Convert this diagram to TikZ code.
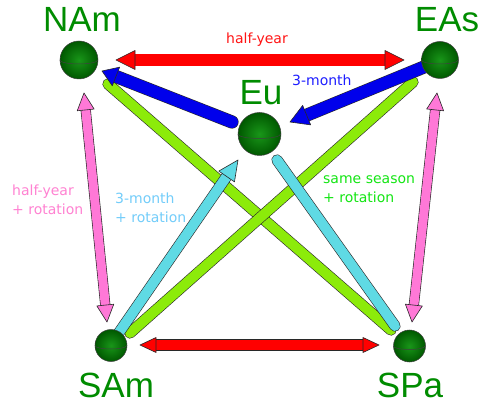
\documentclass[tikz,border=0pt]{standalone}
\usepackage{fontspec}
\setmainfont{Liberation Sans}
\newfontfamily\smallfont{DejaVu Sans}
\usetikzlibrary{calc}

\definecolor{sphlight}{RGB}{25,150,25}
\definecolor{sphdark}{RGB}{0,88,0}
\definecolor{labgreen}{RGB}{0,140,0}
\definecolor{rodred}{RGB}{255,0,0}
\definecolor{rodblue}{RGB}{0,0,235}
\definecolor{rodlime}{RGB}{140,235,10}
\definecolor{rodcyan}{RGB}{95,218,228}
\definecolor{rodpink}{RGB}{255,120,215}
\definecolor{rodedge}{RGB}{40,40,40}
\definecolor{txtred}{RGB}{255,20,20}
\definecolor{txtblue}{RGB}{30,30,255}
\definecolor{txtpink}{RGB}{255,130,210}
\definecolor{txtcyan}{RGB}{115,205,250}
\definecolor{txtgreen}{RGB}{20,230,20}

\tikzset{
  sphere/.style={circle, inner sep=0pt, minimum size=#1, shading=radial, inner color=sphlight, outer color=sphdark, draw=black!75, line width=0.5pt},
  biglabel/.style={font=\fontsize{35}{35}\selectfont, text=labgreen, inner sep=0pt, anchor=base},
  smalllabel/.style={font=\smallfont\fontsize{14}{19}\selectfont, inner sep=0pt, align=left},
  equator/.style={black!75, line width=0.5pt},
}

% single-headed rod: colour, shaft width, from, tip, head length, head half width
\newcommand\arrowrod[6]{%
  \coordinate (hb) at ($(#4)!#5pt!(#3)$);
  \draw[line width=#2pt+1.2pt, rodedge, line cap=round] (#3) -- (hb);
  \draw[line width=#2pt, #1, line cap=round] (#3) -- (hb);
  \draw[rodedge, line width=0.6pt, fill=#1, line join=round] (#4) -- ($(hb)!#6pt!90:(#4)$) -- ($(hb)!#6pt!-90:(#4)$) -- cycle;
}
% double-headed rod: colour, shaft width, tip A, tip B, head length, head half width
\newcommand\dblrod[6]{%
  \coordinate (hA) at ($(#3)!#5pt!(#4)$);
  \coordinate (hB) at ($(#4)!#5pt!(#3)$);
  \draw[line width=#2pt+1.2pt, rodedge] (hA) -- (hB);
  \draw[line width=#2pt, #1] (hA) -- (hB);
  \draw[rodedge, line width=0.6pt, fill=#1, line join=round] (#3) -- ($(hA)!#6pt!90:(#3)$) -- ($(hA)!#6pt!-90:(#3)$) -- cycle;
  \draw[rodedge, line width=0.6pt, fill=#1, line join=round] (#4) -- ($(hB)!#6pt!90:(#4)$) -- ($(hB)!#6pt!-90:(#4)$) -- cycle;
}
% plain rod: colour, width, from, to
\newcommand\plainrod[4]{%
  \draw[line width=#2pt+1.2pt, rodedge, line cap=round] (#3) -- (#4);
  \draw[line width=#2pt, #1, line cap=round] (#3) -- (#4);
}

\begin{document}
\begin{tikzpicture}[x=1pt,y=-1pt]
\fill[white] (0,0) rectangle (479,403);
\useasboundingbox (0,0) rectangle (479,403);

% sphere positions
\coordinate (pNAm) at (79,60);
\coordinate (pEAs) at (440,60);
\coordinate (pEu) at (259.5,134);
\coordinate (pSAm) at (111,345.5);
\coordinate (pSPa) at (409.5,346);

% rod end points
\coordinate (gA1) at (108,84);
\coordinate (gA2) at (391,330);
\coordinate (gB1) at (413,82);
\coordinate (gB2) at (130,333);
\coordinate (cA1) at (118,334);
\coordinate (cA2) at (238,160);
\coordinate (cB1) at (277,160);
\coordinate (cB2) at (395,326);
\coordinate (bA1) at (232,122);
\coordinate (bA2) at (102,71);
\coordinate (bB1) at (424,67);
\coordinate (bB2) at (290,122);
\coordinate (rA1) at (116,60);
\coordinate (rA2) at (404,60);
\coordinate (rB1) at (140,345);
\coordinate (rB2) at (379,345);
\coordinate (pA1) at (84,93);
\coordinate (pA2) at (107,322);
\coordinate (pB1) at (437,93);
\coordinate (pB2) at (412,322);

% same season + rotation (lime)
\plainrod{rodlime}{10}{gA1}{gA2}
\plainrod{rodlime}{10}{gB1}{gB2}
% 3-month + rotation (cyan)
\arrowrod{rodcyan}{10}{cA1}{cA2}{20}{9.5}
\plainrod{rodcyan}{10}{cB1}{cB2}
% 3-month (blue)
\arrowrod{rodblue}{12}{bA1}{bA2}{15}{10}
\arrowrod{rodblue}{12}{bB1}{bB2}{18}{10.5}
% half-year + rotation (pink)
\dblrod{rodpink}{9}{pA1}{pA2}{17}{8.5}
\dblrod{rodpink}{9}{pB1}{pB2}{17}{8.5}
% half-year (red)
\dblrod{rodred}{11.5}{rA1}{rA2}{19}{9.5}
\dblrod{rodred}{10}{rB1}{rB2}{16}{7.5}

% spheres
\node[sphere=38pt] (NAm) at (pNAm) {};
\node[sphere=37pt] (EAs) at (pEAs) {};
\node[sphere=43pt] (Eu) at (pEu) {};
\node[sphere=32pt] (SAm) at (pSAm) {};
\node[sphere=32pt] (SPa) at (pSPa) {};
\draw[equator] (NAm.west) arc[start angle=180, end angle=0, x radius=19, y radius=4];
\draw[equator] (EAs.west) arc[start angle=180, end angle=0, x radius=18.5, y radius=4];
\draw[equator] (Eu.west) arc[start angle=180, end angle=0, x radius=21.5, y radius=4.5];
\draw[equator] (SAm.west) arc[start angle=180, end angle=0, x radius=16, y radius=3.5];
\draw[equator] (SPa.west) arc[start angle=180, end angle=0, x radius=16, y radius=3.5];

% big labels
\node[biglabel] (NAmL) at (82,32) {NAm};
\node[biglabel] (EAsL) at (447,32) {EAs};
\node[biglabel] (EuL) at (261,105) {Eu};
\node[biglabel] (SAmL) at (116,397) {SAm};
\node[biglabel] (SPaL) at (410,397) {SPa};

% small labels
\node[smalllabel, anchor=base, text=txtred] (lhy) at (257,44) {half-year};
\node[smalllabel, anchor=base west, text=txtblue] (l3m) at (292,86) {3-month};
\node[smalllabel, anchor=north west, text=txtpink] (lhyr) at (12,181.7) {\strut half-year\\+ rotation};
\node[smalllabel, anchor=north west, text=txtcyan] (l3mr) at (115,189.7) {\strut 3-month\\+ rotation};
\node[smalllabel, anchor=north west, text=txtgreen] (lssr) at (323,169.7) {\strut same season\\+ rotation};
\end{tikzpicture}
\end{document}
